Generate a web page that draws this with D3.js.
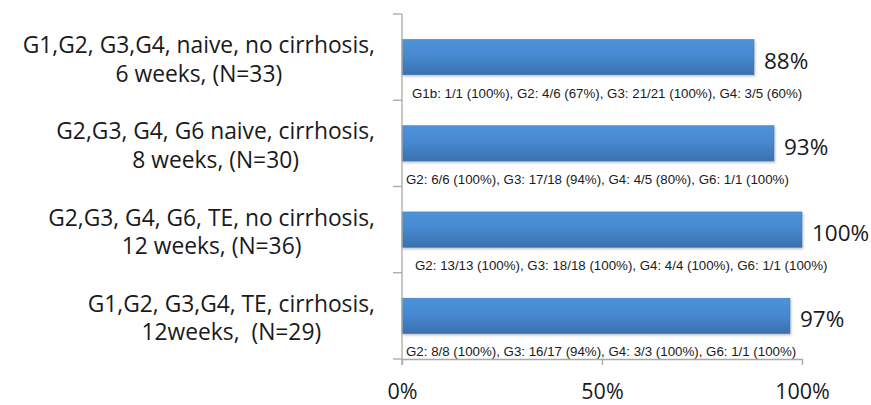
<!DOCTYPE html>
<html>
<head>
<meta charset="utf-8">
<script src="https://cdn.jsdelivr.net/npm/d3@7"></script>
<style>
  html, body { margin: 0; padding: 0; background: #ffffff; }
  svg { display: block; }
</style>
</head>
<body>
<svg id="chart" width="871" height="405"></svg>
<script>
// ---- data ----
const categoryLines = [
  ["G1,G2, G3,G4, naive, no cirrhosis,", "6 weeks, (N=33)"],
  ["G2,G3, G4, G6 naive, cirrhosis,", "8 weeks, (N=30)"],
  ["G2,G3, G4, G6, TE, no cirrhosis,", "12 weeks, (N=36)"],
  ["G1,G2, G3,G4, TE, cirrhosis,", "12weeks,  (N=29)"]
];
const svrValues = [0.88, 0.93, 1.00, 0.97];
const valueLabels = ["88%", "93%", "100%", "97%"];
const genotypeNotes = [
  "G1b: 1/1 (100%), G2: 4/6 (67%), G3: 21/21 (100%), G4: 3/5 (60%)",
  "G2: 6/6 (100%), G3: 17/18 (94%), G4: 4/5 (80%), G6: 1/1 (100%)",
  "G2: 13/13 (100%), G3: 18/18 (100%), G4: 4/4 (100%), G6: 1/1 (100%)",
  "G2: 8/8 (100%), G3: 16/17 (94%), G4: 3/3 (100%), G6: 1/1 (100%)"
];
const xTicks = [0, 0.5, 1];
const xTickLabels = ["0%", "50%", "100%"];

// ---- layout ----
const plotLeft = 402, plotRight = 802, plotTop = 14, plotBottom = 359;
const noteShift = [10, 4, 13, 4];
const axisColor = "#a9a9a9";
const labelFont = "'Open Sans', Lato, sans-serif";

const svg = d3.select("#chart");
const idx = d3.range(svrValues.length);

const x = d3.scaleLinear().domain([0, 1]).range([plotLeft, plotRight]);
const y = d3.scaleBand().domain(idx).range([plotTop, plotBottom]).paddingInner(0).paddingOuter(0);
const barH = y.bandwidth() * 0.41;

// gradient
const defs = svg.append("defs");
const grad = defs.append("linearGradient").attr("id", "barGrad")
  .attr("x1", 0).attr("y1", 0).attr("x2", 0).attr("y2", 1);
grad.append("stop").attr("offset", "0%").attr("stop-color", "#4d93da");
grad.append("stop").attr("offset", "45%").attr("stop-color", "#4789d0");
grad.append("stop").attr("offset", "100%").attr("stop-color", "#3a71b0");
const sh = defs.append("filter").attr("id", "shadow").attr("x", "-5%").attr("y", "-20%").attr("width", "110%").attr("height", "150%");
sh.append("feDropShadow").attr("dx", 1).attr("dy", 1.5).attr("stdDeviation", 1).attr("flood-color", "#000").attr("flood-opacity", 0.25);

// bars
svg.append("g").selectAll("rect").data(idx).join("rect")
  .attr("x", x(0))
  .attr("y", i => y(i) + (y.bandwidth() - barH) / 2)
  .attr("width", i => x(svrValues[i]) - x(0))
  .attr("height", barH)
  .attr("fill", "url(#barGrad)")
  .attr("stroke", "#3c73b2")
  .attr("stroke-width", 0.5)
  .attr("filter", "url(#shadow)");

// value labels
svg.append("g").selectAll("text").data(idx).join("text")
  .attr("x", i => x(svrValues[i]) + 10)
  .attr("y", i => y(i) + y.bandwidth() / 2 + 11.5)
  .attr("font-family", labelFont)
  .attr("font-size", 22.5)
  .attr("fill", "#1a1a1a")
  .text(i => valueLabels[i]);

// genotype notes
svg.append("g").selectAll("text").data(idx).join("text")
  .attr("x", i => x(0) + noteShift[i])
  .attr("y", i => y(i) + y.bandwidth() / 2 + 40.5)
  .attr("font-family", "'Liberation Sans', Arial, sans-serif")
  .attr("font-size", 13.3)
  .attr("fill", "#1a1a1a")
  .text(i => genotypeNotes[i]);

// y axis (category boundaries)
const yAxisG = svg.append("g").attr("stroke", axisColor).attr("stroke-width", 1.3);
yAxisG.append("line").attr("x1", plotLeft).attr("x2", plotLeft).attr("y1", plotTop).attr("y2", plotBottom + 6);
const bounds = idx.map(i => y(i)).concat([plotBottom]);
yAxisG.selectAll("line.tk").data(bounds).join("line").attr("class", "tk")
  .attr("x1", plotLeft - 9).attr("x2", plotLeft).attr("y1", d => d).attr("y2", d => d);

// x axis
const xAxis = d3.axisBottom(x).tickValues(xTicks).tickSize(6).tickSizeOuter(0)
  .tickFormat((d, i) => xTickLabels[i]);
const xg = svg.append("g").attr("transform", `translate(0,${plotBottom})`).call(xAxis);
xg.select(".domain").attr("stroke", axisColor).attr("stroke-width", 1.3);
xg.selectAll(".tick line").attr("stroke", axisColor).attr("stroke-width", 1.3);
xg.selectAll(".tick text")
  .attr("font-family", labelFont)
  .attr("font-size", 21.5)
  .attr("fill", "#1a1a1a")
  .attr("dy", 0)
  .attr("y", 40);

// category labels (centered block, right edge at fixed x)
const catRight = 375;
const catG = svg.append("g");
idx.forEach(i => {
  const cy = y(i) + y.bandwidth() / 2;
  const g = catG.append("g");
  const texts = categoryLines[i].map((line, k) =>
    g.append("text")
      .attr("y", cy - 4 + k * 28.5)
      .attr("font-family", labelFont)
      .attr("font-size", 22.8)
      .attr("fill", "#1a1a1a")
      .attr("text-anchor", "middle")
      .attr("xml:space", "preserve")
      .style("white-space", "pre")
      .text(line));
  const maxW = d3.max(texts, t => t.node().getComputedTextLength());
  texts.forEach(t => t.attr("x", catRight - maxW / 2));
});
</script>
</body>
</html>
